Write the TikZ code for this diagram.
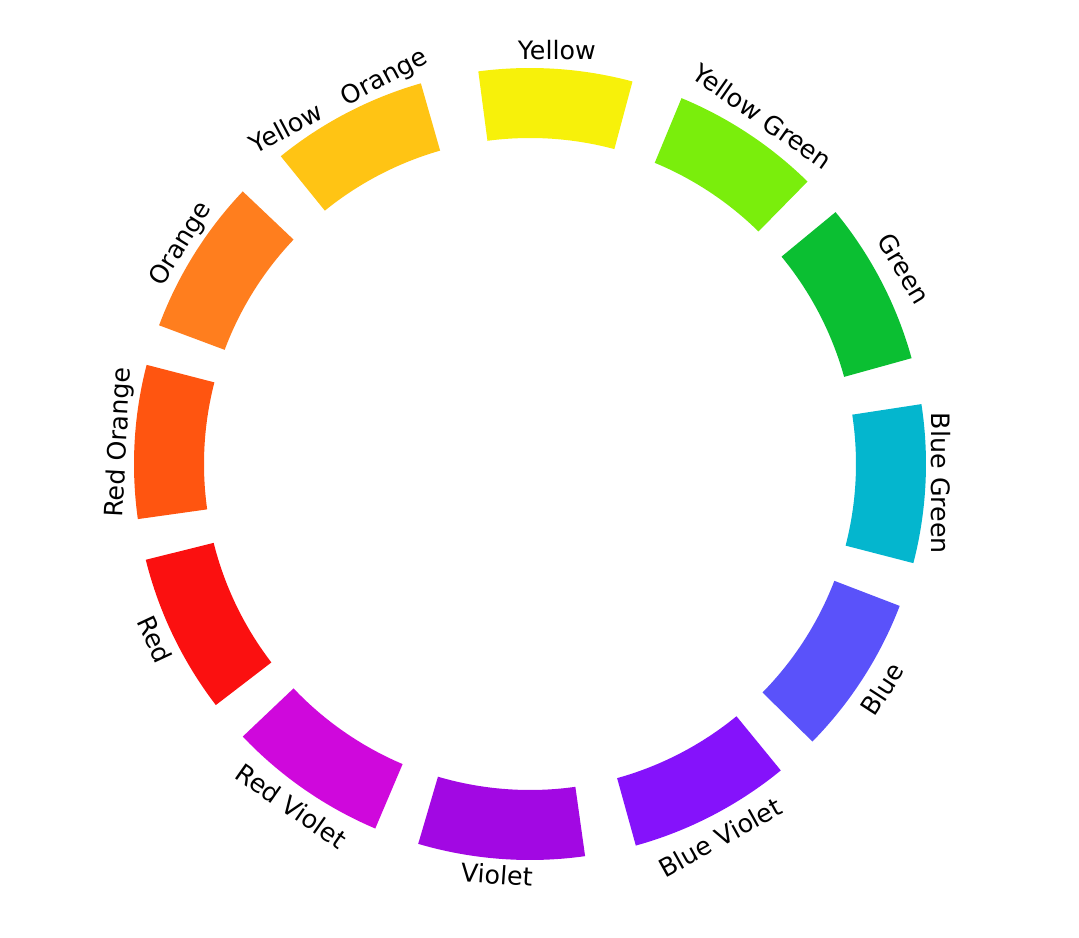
\documentclass[tikz,border=0pt]{standalone}
\usepackage{fontspec}
\setmainfont{DejaVu Sans}
\usetikzlibrary{positioning}

\definecolor{cYellow}{RGB}{247,241,10}
\definecolor{cYellowGreen}{RGB}{122,238,12}
\definecolor{cGreen}{RGB}{11,191,50}
\definecolor{cBlueGreen}{RGB}{4,182,206}
\definecolor{cBlue}{RGB}{90,82,250}
\definecolor{cBlueViolet}{RGB}{133,18,251}
\definecolor{cViolet}{RGB}{162,8,227}
\definecolor{cRedViolet}{RGB}{207,8,220}
\definecolor{cRed}{RGB}{251,16,16}
\definecolor{cRedOrange}{RGB}{255,85,16}
\definecolor{cOrange}{RGB}{255,126,30}
\definecolor{cYellowOrange}{RGB}{255,196,20}

\begin{document}
\begin{tikzpicture}[
    x=0.025cm, y=0.025cm,
    seg/.style={fill=#1, draw=none},
    lbl/.style={font=\fontsize{18}{20}\selectfont, inner sep=0pt}
]
\useasboundingbox (-530,-474) rectangle (549,464);

% ring segments: start angle / end angle / colour
\foreach \from/\to/\col in {75/97.5/cYellow, 45.5/67.5/cYellowGreen, 15.5/39.5/cGreen,
    -14.5/8.7/cBlueGreen, -44.5/-21/cBlue, -74.5/-50.7/cBlueViolet,
    -106.4/-82/cViolet, -136.5/-113/cRedViolet, -166/-142.5/cRed,
    165.5/188/cRedOrange, 136.5/159.5/cOrange, 106/129/cYellowOrange}{
  \fill[seg=\col] (\from:326) arc[start angle=\from, end angle=\to, radius=326]
    -- (\to:396) arc[start angle=\to, end angle=\from, radius=396] -- cycle;
}

% labels
\node[lbl, rotate=0] (yellow) at (86.3:415) {Yellow};
\node[lbl, rotate=-35] (yellowgreen) at (56.2:418) {Yellow Green};
\node[lbl, rotate=-59] (green) at (27.6:422) {Green};
\node[lbl, rotate=-90] (bluegreen) at (-2.7:411) {Blue Green};
\node[lbl, rotate=57] (blue) at (-32.6:418) {Blue};
\node[lbl, rotate=29] (blueviolet) at (-63:419) {Blue Violet};
\node[lbl, rotate=-4] (violet) at (-94.6:412) {Violet};
\node[lbl, rotate=-35] (redviolet) at (-124.9:417) {Red Violet};
\node[lbl, rotate=-65] (red) at (-154.9:414) {Red};
\node[lbl, rotate=87] (redorange) at (177:411) {Red Orange};
\node[lbl, rotate=58] (orange) at (147.8:412) {Orange};
\node[lbl, rotate=28] (yelloworange) at (117.8:409) {Yellow\quad Orange};
\end{tikzpicture}
\end{document}
